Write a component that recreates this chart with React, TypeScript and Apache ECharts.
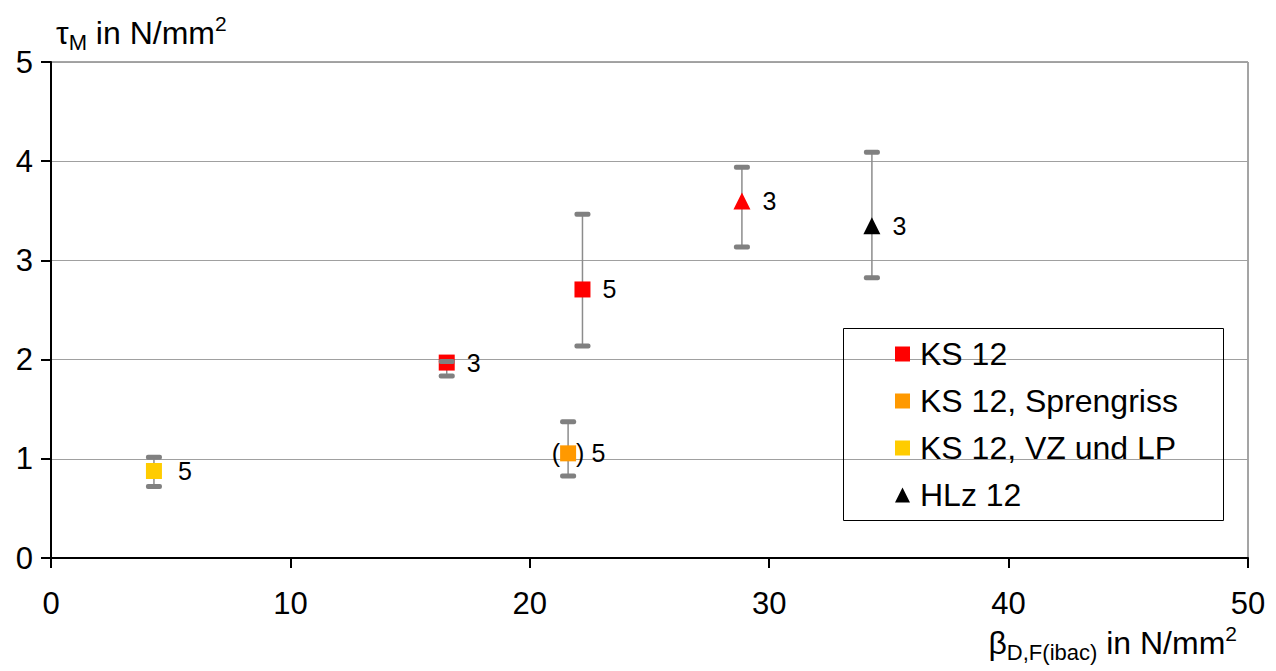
import React, { useEffect, useRef } from "react";
import * as echarts from "echarts";

const FONT = "'Liberation Sans', Arial, Helvetica, sans-serif";

const seriesNames = ["KS 12", "KS 12, Sprengriss", "KS 12, VZ und LP", "HLz 12"];
const seriesColors = ["#ff0000", "#ff9900", "#ffcc00", "#000000"];

// KS 12 (red): two squares and one triangle
const ks12X = [16.53, 22.2, 28.86];
const ks12Y = [1.97, 2.707, 3.6];
const ks12Low = [1.835, 2.137, 3.135];
const ks12High = [1.98, 3.465, 3.94];
const ks12N = [3, 5, 3];
const ks12Symbol = ["rect", "rect", "triangle"];

// KS 12, Sprengriss (orange)
const sprX = [21.6];
const sprY = [1.055];
const sprLow = [0.827];
const sprHigh = [1.374];
const sprN = [5];

// KS 12, VZ und LP (yellow)
const vzX = [4.3];
const vzY = [0.877];
const vzLow = [0.72];
const vzHigh = [1.015];
const vzN = [5];

// HLz 12 (black)
const hlzX = [34.29];
const hlzY = [3.35];
const hlzLow = [2.826];
const hlzHigh = [4.09];
const hlzN = [3];

const xTicks = [0, 10, 20, 30, 40, 50];
const yTicks = [0, 1, 2, 3, 4, 5];

export default function App() {
  const ref = useRef<HTMLDivElement>(null);

  useEffect(() => {
    if (!ref.current) return;
    const chart = echarts.init(ref.current, null, { renderer: "svg" });

    const mkData = (xs: number[], ys: number[], ns: number[], syms?: string[]) =>
      xs.map((x, i) => ({
        value: [x, ys[i]],
        n: ns[i],
        symbol: syms ? syms[i] : "rect",
        symbolSize: syms && syms[i] === "triangle" ? 17 : 16,
      }));

    const errData: number[][] = [];
    const pushErr = (xs: number[], lo: number[], hi: number[]) =>
      xs.forEach((x, i) => errData.push([x, lo[i], hi[i]]));
    pushErr(ks12X, ks12Low, ks12High);
    pushErr(sprX, sprLow, sprHigh);
    pushErr(vzX, vzLow, vzHigh);
    pushErr(hlzX, hlzLow, hlzHigh);

    const labelBase = {
      show: true,
      position: "right" as const,
      distance: 12,
      color: "#000",
      opacity: 1,
      fontSize: 25,
      fontFamily: FONT,
      formatter: (p: any) => String(p.data.n),
    };

    const richTitle = {
      a: { fontSize: 32, lineHeight: 40, verticalAlign: "middle", fontFamily: FONT, fill: "#000", color: "#000" },
      s: { fontSize: 22, lineHeight: 18, verticalAlign: "bottom", fontFamily: FONT, fill: "#000", color: "#000" },
      p: { fontSize: 21, lineHeight: 18, verticalAlign: "top", fontFamily: FONT, fill: "#000", color: "#000" },
    };

    const option: any = {
      animation: false,
      backgroundColor: "#ffffff",
      grid: {
        left: 51,
        top: 62,
        right: 28,
        bottom: 113,
        show: true,
        borderColor: "#4a4a4a",
        borderWidth: 1,
        backgroundColor: "transparent",
      },
      xAxis: {
        type: "value",
        min: xTicks[0],
        max: xTicks[xTicks.length - 1],
        interval: 10,
        axisLine: { show: true, onZero: false, lineStyle: { color: "#000", width: 2 } },
        axisTick: { show: true, inside: false, length: 10, lineStyle: { color: "#000", width: 2 } },
        axisLabel: { margin: 30, color: "#000", fontSize: 31, fontFamily: FONT },
        splitLine: { show: false },
      },
      yAxis: {
        type: "value",
        min: yTicks[0],
        max: yTicks[yTicks.length - 1],
        interval: 1,
        axisLine: { show: true, onZero: false, lineStyle: { color: "#000", width: 2 } },
        axisTick: { show: true, inside: false, length: 10, lineStyle: { color: "#000", width: 2 } },
        axisLabel: { margin: 18, color: "#000", fontSize: 31, fontFamily: FONT },
        splitLine: { show: true, lineStyle: { color: "#a0a0a0", width: 1 } },
      },
      legend: {
        left: 895,
        top: 338,
        orient: "vertical",
        itemWidth: 15,
        itemHeight: 15,
        itemGap: 15,
        padding: 0,
        textStyle: { fontSize: 32, lineHeight: 28, color: "#000", fontFamily: FONT, padding: [0, 0, 0, 5] },
        data: [
          { name: seriesNames[0], icon: "rect" },
          { name: seriesNames[1], icon: "rect" },
          { name: seriesNames[2], icon: "rect" },
          { name: seriesNames[3], icon: "triangle" },
        ],
      },
      graphic: [
        {
          type: "rect",
          shape: { x: 843.5, y: 328.5, width: 380, height: 192 },
          style: { fill: "none", stroke: "#000", lineWidth: 1 },
          z: 10,
        },
        {
          type: "text",
          left: 56,
          top: 13,
          style: { text: "{a|τ}{s|M}{a| in N/mm}{p|2}", fill: "#000", rich: richTitle },
        },
        {
          type: "text",
          right: 39,
          top: 623,
          style: { text: "{a|β}{s|D,F(ibac)}{a| in N/mm}{p|2}", fill: "#000", rich: richTitle },
        },
      ],
      series: [
        {
          name: "_errLine",
          type: "custom",
          z: 1,
          encode: { x: 0, y: [1, 2] },
          data: errData,
          renderItem: (_params: any, api: any) => {
            const x = api.value(0);
            const pHi = api.coord([x, api.value(2)]);
            const pLo = api.coord([x, api.value(1)]);
            return {
              type: "line",
              shape: { x1: pHi[0], y1: pHi[1], x2: pLo[0], y2: pLo[1] },
              style: { stroke: "#8c8c8c", lineWidth: 1.5 },
            };
          },
        },
        {
          name: seriesNames[0],
          type: "scatter",
          z: 2,
          itemStyle: { color: seriesColors[0], opacity: 1 },
          label: labelBase,
          data: mkData(ks12X, ks12Y, ks12N, ks12Symbol),
        },
        {
          name: seriesNames[1],
          type: "scatter",
          z: 2,
          itemStyle: { color: seriesColors[1], opacity: 1 },
          label: { ...labelBase, distance: 0, formatter: (p: any) => ") " + p.data.n },
          data: mkData(sprX, sprY, sprN),
        },
        {
          name: "_paren",
          type: "scatter",
          z: 1,
          symbol: "rect",
          symbolSize: 16,
          itemStyle: { color: "rgba(0,0,0,0)", opacity: 1 },
          label: { ...labelBase, position: "left", distance: 0, formatter: () => "(" },
          data: sprX.map((x, i) => [x, sprY[i]]),
        },
        {
          name: seriesNames[2],
          type: "scatter",
          z: 2,
          itemStyle: { color: seriesColors[2], opacity: 1 },
          label: { ...labelBase, distance: 16 },
          data: mkData(vzX, vzY, vzN),
        },
        {
          name: seriesNames[3],
          type: "scatter",
          z: 2,
          itemStyle: { color: seriesColors[3], opacity: 1 },
          label: labelBase,
          data: mkData(hlzX, hlzY, hlzN, ["triangle"]),
        },
        {
          name: "_errCap",
          type: "custom",
          z: 5,
          encode: { x: 0, y: [1, 2] },
          data: errData,
          renderItem: (_params: any, api: any) => {
            const x = api.value(0);
            const pHi = api.coord([x, api.value(2)]);
            const pLo = api.coord([x, api.value(1)]);
            return {
              type: "group",
              children: [
                {
                  type: "rect",
                  shape: { x: pHi[0] - 8, y: pHi[1] - 2.5, width: 16, height: 5, r: 2 },
                  style: { fill: "#808080" },
                },
                {
                  type: "rect",
                  shape: { x: pLo[0] - 8, y: pLo[1] - 2.5, width: 16, height: 5, r: 2 },
                  style: { fill: "#808080" },
                },
              ],
            };
          },
        },
      ],
    };

    chart.setOption(option);
    return () => chart.dispose();
  }, []);

  return (
    <div
      ref={ref}
      style={{ position: "fixed", left: 0, top: 0, width: 1276, height: 671, background: "#fff" }}
    />
  );
}
